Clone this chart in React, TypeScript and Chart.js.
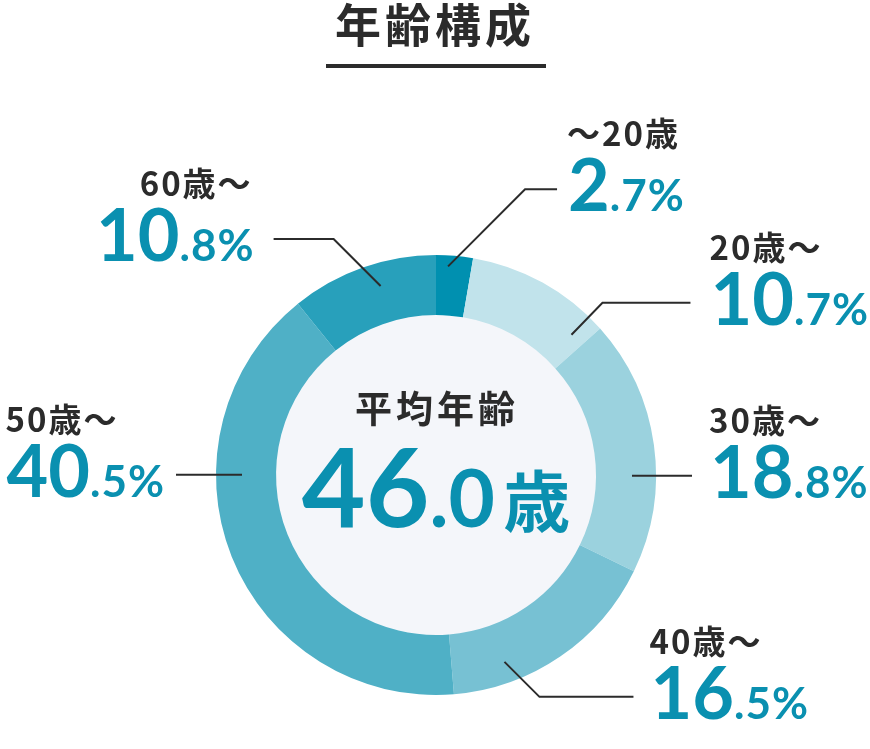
import { useEffect, useRef } from "react";
import { Chart, registerables } from "chart.js";

Chart.register(...registerables);

// --- data -----------------------------------------------------------------
const chartTitle = "年齢構成";
const centerCaption = "平均年齢";
const averageAge = 46.0;
const ageUnit = "歳";

const ageGroups = ["〜20歳", "20歳〜", "30歳〜", "40歳〜", "50歳〜", "60歳〜"];
const shares = [2.7, 10.7, 18.8, 16.5, 40.5, 10.8];
const sliceColors = ["#0090b0", "#c1e3eb", "#9bd2de", "#77c1d3", "#4fb0c6", "#28a0bb"];

// --- styling ----------------------------------------------------------------
const JP = '"Noto Sans CJK JP", "Noto Sans", sans-serif';
const NUM = 'Lato, "Noto Sans", sans-serif';
const TEAL = "#0a90b0";
const INK = "#2b2b2b";

// where each leader line leaves its slice and how it bends
// t: position inside the slice (0..1), inset: px in from outer edge
// bend: diagonal run before the horizontal part, run: horizontal length (sign = side)
const leaders = [
  { t: 0.34, inset: 11, bend: [77, -77], run: 32, gap: 11, labelAlign: "start" },
  { t: 0.89, inset: 25, bend: [31, -32], run: 88, gap: 20, labelAlign: "start" },
  { t: 0.62, inset: 24, bend: [0, 0], run: 60, gap: 18, labelAlign: "start" },
  { t: 0.74, inset: 21, bend: [35, 35], run: 94, gap: 17, labelAlign: "start" },
  { t: 0.65, inset: 26, bend: [0, 0], run: -66, gap: 11, labelAlign: "start" },
  { t: 0.58, inset: 23, bend: [-47, -47], run: -60, gap: 19, labelAlign: "end" },
];

type Run = { text: string; font: string; color: string; spacing?: number };

function measureRuns(ctx: CanvasRenderingContext2D, runs: Run[]) {
  let w = 0;
  for (const r of runs) {
    ctx.font = r.font;
    (ctx as any).letterSpacing = `${r.spacing ?? 0}px`;
    w += ctx.measureText(r.text).width;
  }
  return w;
}

function drawRuns(ctx: CanvasRenderingContext2D, runs: Run[], x: number, y: number) {
  ctx.textAlign = "left";
  for (const r of runs) {
    ctx.font = r.font;
    (ctx as any).letterSpacing = `${r.spacing ?? 0}px`;
    ctx.fillStyle = r.color;
    ctx.fillText(r.text, x, y);
    x += ctx.measureText(r.text).width;
  }
  (ctx as any).letterSpacing = "0px";
}

function percentRuns(v: number): Run[] {
  const [whole, frac] = v.toFixed(1).split(".");
  return [
    { text: whole, font: `bold 72px ${NUM}`, color: TEAL },
    { text: `.${frac}%`, font: `bold 44px ${NUM}`, color: TEAL, spacing: 1 },
  ];
}

const decorPlugin = {
  id: "ageDecor",
  beforeDatasetsDraw(chart: Chart) {
    const arc: any = chart.getDatasetMeta(0).data[0];
    if (!arc) return;
    const { x, y, innerRadius } = arc.getProps(["x", "y", "innerRadius"], true);
    const ctx = chart.ctx;
    ctx.save();
    ctx.beginPath();
    ctx.arc(x, y, innerRadius + 1, 0, Math.PI * 2);
    ctx.fillStyle = "#f4f6fa";
    ctx.fill();
    ctx.restore();
  },
  afterDraw(chart: Chart) {
    const ctx = chart.ctx;
    const arcs: any[] = chart.getDatasetMeta(0).data as any[];
    if (!arcs.length) return;
    const { x: cx, y: cy } = arcs[0].getProps(["x", "y"], true);
    ctx.save();
    ctx.textBaseline = "alphabetic";

    // title + underline
    const titleRun: Run[] = [{ text: chartTitle, font: `bold 46px ${JP}`, color: INK, spacing: 4 }];
    const tw = measureRuns(ctx, titleRun) - 4;
    drawRuns(ctx, titleRun, cx - 3 - tw / 2, 42);
    ctx.fillStyle = INK;
    ctx.fillRect(cx - 110, 64, 220, 4);

    // centre text
    const capRun: Run[] = [{ text: centerCaption, font: `bold 37px ${JP}`, color: INK, spacing: 4 }];
    const capW = measureRuns(ctx, capRun) - 4;
    drawRuns(ctx, capRun, cx - 1 - capW / 2, 423);

    const [aw, af] = averageAge.toFixed(1).split(".");
    const ageRuns: Run[] = [
      { text: aw, font: `bold 110px ${NUM}`, color: TEAL },
      { text: `.${af}`, font: `bold 80px ${NUM}`, color: TEAL },
      { text: " ", font: `bold 34px ${NUM}`, color: TEAL },
      { text: ageUnit, font: `bold 67px ${JP}`, color: TEAL },
    ];
    const ageW = measureRuns(ctx, ageRuns);
    drawRuns(ctx, ageRuns, cx - ageW / 2, cy + 52);

    // leaders and labels
    arcs.forEach((arc, i) => {
      const L = leaders[i];
      const p = arc.getProps(["startAngle", "endAngle", "outerRadius"], true);
      const a = p.startAngle + (p.endAngle - p.startAngle) * L.t;
      const r = p.outerRadius - L.inset;
      const sx = cx + Math.cos(a) * r;
      const sy = cy + Math.sin(a) * r;
      const ex = sx + L.bend[0];
      const ey = sy + L.bend[1];
      const hx = ex + L.run;

      ctx.beginPath();
      ctx.moveTo(sx, sy);
      ctx.lineTo(ex, ey);
      ctx.lineTo(hx, ey);
      ctx.strokeStyle = INK;
      ctx.lineWidth = 2;
      ctx.stroke();

      const numRuns = percentRuns(shares[i]);
      const lblRuns: Run[] = [{ text: ageGroups[i], font: `bold 33px ${JP}`, color: INK, spacing: 2 }];
      const numW = measureRuns(ctx, numRuns);
      const lblW = measureRuns(ctx, lblRuns) - 2;
      const numBase = ey + 22;
      const lblBase = numBase - 65;
      const right = L.run > 0;
      const numX = right ? hx + L.gap : hx - L.gap - numW;
      drawRuns(ctx, numRuns, numX, numBase);
      const lblX = L.labelAlign === "end" ? numX + numW - lblW - 4 : numX - 1;
      drawRuns(ctx, lblRuns, lblX, lblBase);
    });
    ctx.restore();
  },
};

export default function App() {
  const chartRef = useRef<HTMLCanvasElement | null>(null);
  const chartInstance = useRef<Chart | null>(null);

  useEffect(() => {
    if (!chartRef.current) return;
    if (chartInstance.current) chartInstance.current.destroy();
    const ctx = chartRef.current.getContext("2d");
    if (!ctx) return;

    chartInstance.current = new Chart(ctx, {
      type: "doughnut",
      data: {
        labels: ageGroups,
        datasets: [
          {
            data: shares,
            backgroundColor: sliceColors,
            borderWidth: 0,
          },
        ],
      },
      options: {
        responsive: true,
        maintainAspectRatio: false,
        animation: false,
        cutout: "72.7%",
        layout: { padding: { top: 255, bottom: 54, left: 216, right: 214 } },
        plugins: {
          legend: { display: false },
          tooltip: { enabled: false },
        },
      },
      plugins: [decorPlugin as any],
    });

    return () => {
      if (chartInstance.current) {
        chartInstance.current.destroy();
        chartInstance.current = null;
      }
    };
  }, []);

  return (
    <div style={{ position: "absolute", left: 0, top: 0, width: 870, height: 749, background: "#fff" }}>
      <canvas ref={chartRef} />
    </div>
  );
}
